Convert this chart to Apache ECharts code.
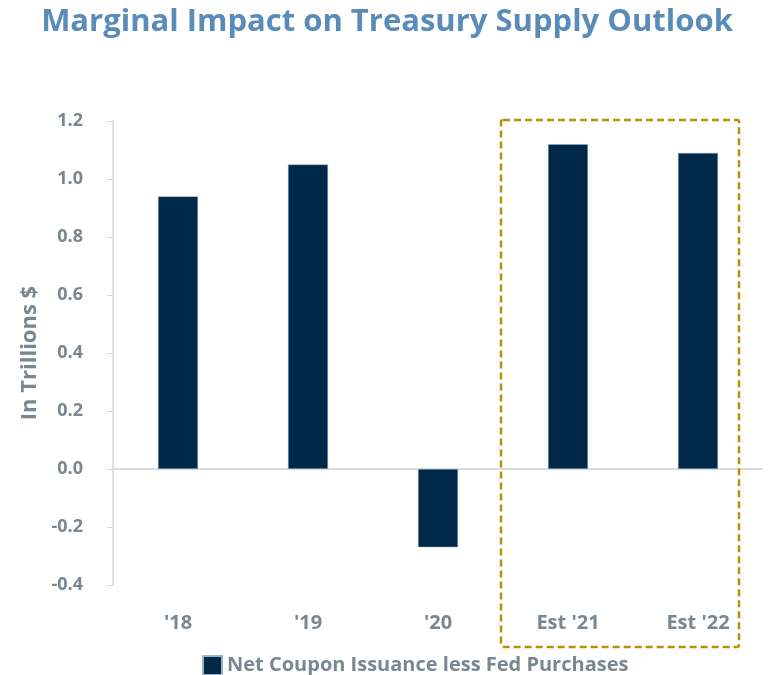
<!DOCTYPE html>
<html>
<head>
<meta charset="utf-8">
<script src="https://cdn.jsdelivr.net/npm/echarts@6/dist/echarts.min.js"></script>
<style>
  html, body { margin: 0; padding: 0; background: #fff; }
  #chart { width: 774px; height: 675px; }
</style>
</head>
<body>
<div id="chart"></div>
<script>
// data
const categories = ["'18", "'19", "'20", "Est '21", "Est '22"];
const netCoupon = [0.94, 1.05, -0.27, 1.12, 1.09];
const seriesName = "Net Coupon Issuance less Fed Purchases";

const textGray = "#7b8790";
const font = "Open Sans";

const chart = echarts.init(document.getElementById("chart"));

const option = {
  backgroundColor: "#fff",
  title: {
    text: "Marginal Impact on Treasury Supply Outlook",
    left: "center",
    top: 2,
    textStyle: {
      color: "#5a8cb9",
      fontFamily: font,
      fontWeight: "bold",
      fontSize: 31,
    },
  },
  legend: {
    data: [seriesName],
    left: 197,
    top: 650,
    icon: "rect",
    itemWidth: 19,
    itemHeight: 19,
    itemGap: 8,
    textStyle: {
      color: textGray,
      fontFamily: font,
      fontWeight: "bold",
      fontSize: 20,
    },
  },
  grid: {
    left: 113,
    right: 11,
    top: 121,
    bottom: 90,
  },
  xAxis: {
    type: "category",
    data: categories,
    axisLine: { show: false },
    axisTick: { show: false },
    axisLabel: {
      color: textGray,
      fontFamily: font,
      fontWeight: "bold",
      fontSize: 20,
      margin: 28,
    },
  },
  yAxis: {
    type: "value",
    min: -0.4,
    max: 1.2,
    interval: 0.2,
    name: "In Trillions $",
    nameLocation: "middle",
    nameGap: 67,
    nameTextStyle: {
      color: textGray,
      fontFamily: font,
      fontWeight: "bold",
      fontSize: 22,
    },
    axisLine: { show: true, lineStyle: { color: "#d6d6d6", width: 1.5 } },
    axisTick: { show: true, length: 6, lineStyle: { color: "#d6d6d6" } },
    splitLine: { show: false },
    axisLabel: {
      color: textGray,
      fontFamily: font,
      fontWeight: "bold",
      fontSize: 18,
      margin: 30,
      formatter: (v) => v.toFixed(1),
    },
  },
  series: [
    {
      name: seriesName,
      type: "bar",
      data: netCoupon,
      barWidth: 40,
      itemStyle: { color: "#002848", borderColor: "#9fb2c4", borderWidth: 0.5 },
      // zero line
      markLine: {
        silent: true,
        symbol: "none",
        label: { show: false },
        lineStyle: { color: "#dcdcdc", type: "solid", width: 2 },
        data: [{ yAxis: 0 }],
        z: 1,
      },
    },
  ],
  // dashed box round the estimates
  graphic: [
    {
      type: "rect",
      shape: { x: 501, y: 120, width: 238, height: 527, r: 2 },
      style: {
        fill: "none",
        stroke: "#b8900c",
        lineWidth: 2.5,
        lineDash: [7, 4],
      },
      z: 10,
    },
  ],
};

chart.setOption(option);
</script>
</body>
</html>
